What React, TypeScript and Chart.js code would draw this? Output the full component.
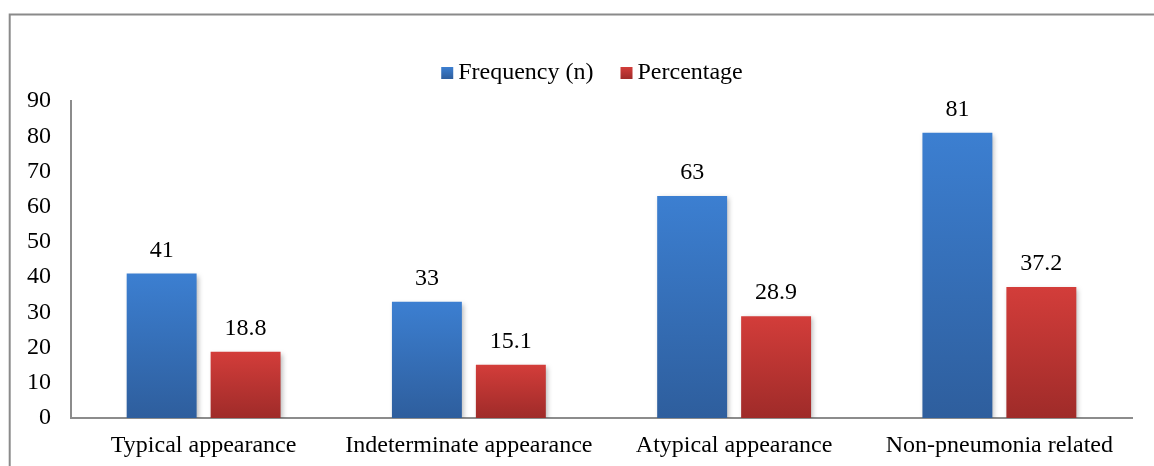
import React, { useEffect, useRef } from "react";
import { Chart, registerables } from "chart.js";

Chart.register(...registerables);

const categories = [
  "Typical appearance",
  "Indeterminate appearance",
  "Atypical appearance",
  "Non-pneumonia related",
];
const seriesLabels = ["Frequency (n)", "Percentage"];
const frequency = [41, 33, 63, 81];
const percentage = [18.8, 15.1, 28.9, 37.2];
const yMin = 0;
const yMax = 90;
const yStep = 10;

const FONT = '"Liberation Serif", "Times New Roman", serif';
const GRADS = [
  ["#3c7fd1", "#2e5e9d"],
  ["#d33d3a", "#9f2b29"],
];
const AXIS_GRAY = "#8c8c8c";

function makeGrad(ctx: CanvasRenderingContext2D, top: number, bottom: number, idx: number) {
  if (!isFinite(top) || !isFinite(bottom) || top === bottom) return GRADS[idx][0];
  const g = ctx.createLinearGradient(0, top, 0, bottom);
  g.addColorStop(0, GRADS[idx][0]);
  g.addColorStop(1, GRADS[idx][1]);
  return g;
}

const framePlugin = {
  id: "frame",
  beforeDraw(chart: any) {
    const ctx = chart.ctx;
    ctx.save();
    ctx.fillStyle = "#ffffff";
    ctx.fillRect(0, 0, chart.width, chart.height);
    ctx.strokeStyle = "#8a8a8a";
    ctx.lineWidth = 2;
    ctx.strokeRect(9.7, 14.5, chart.width + 20, chart.height + 20);
    ctx.restore();
  },
};

const shadowPlugin = {
  id: "barShadow",
  beforeDatasetsDraw(chart: any) {
    const ctx = chart.ctx;
    ctx.save();
    ctx.shadowColor = "rgba(0,0,0,0.28)";
    ctx.shadowBlur = 5;
    ctx.shadowOffsetX = 2;
    ctx.shadowOffsetY = 2;
  },
  afterDatasetsDraw(chart: any) {
    chart.ctx.restore();
  },
};

const labelsPlugin = {
  id: "valueLabels",
  afterDraw(chart: any) {
    const ctx = chart.ctx;
    ctx.save();
    ctx.font = `24px ${FONT}`;
    ctx.fillStyle = "#000000";
    ctx.textAlign = "center";
    ctx.textBaseline = "alphabetic";
    chart.data.datasets.forEach((ds: any, di: number) => {
      const meta = chart.getDatasetMeta(di);
      meta.data.forEach((el: any, i: number) => {
        ctx.fillText(String(ds.data[i]), el.x, el.y - 17);
      });
    });
    ctx.restore();
  },
};

const legendPlugin = {
  id: "customLegend",
  afterDraw(chart: any) {
    const ctx = chart.ctx;
    ctx.save();
    ctx.font = `24px ${FONT}`;
    const box = 12;
    const gapText = 5;
    const gapItem = 27;
    const items = chart.data.datasets.map((d: any) => d.label as string);
    const widths = items.map((t: string) => ctx.measureText(t).width);
    let total = 0;
    widths.forEach((w: number, i: number) => {
      total += box + gapText + w + (i < widths.length - 1 ? gapItem : 0);
    });
    const cx = 592;
    const cy = 73;
    let x = cx - total / 2;
    items.forEach((t: string, i: number) => {
      ctx.fillStyle = makeGrad(ctx, cy - 6, cy + 6, i);
      ctx.fillRect(x, cy - 6, box, box);
      x += box + gapText;
      ctx.fillStyle = "#000000";
      ctx.textAlign = "left";
      ctx.textBaseline = "middle";
      ctx.fillText(t, x, cy);
      x += widths[i] + gapItem;
    });
    ctx.restore();
  },
};

function barColor(idx: number) {
  return (c: any) => {
    const chart = c.chart;
    const y = chart.scales?.y;
    if (!y || c.raw === undefined) return GRADS[idx][0];
    const top = y.getPixelForValue(c.raw);
    const bottom = y.getPixelForValue(0);
    return makeGrad(chart.ctx, top, bottom, idx);
  };
}

export default function App() {
  const ref = useRef<HTMLCanvasElement | null>(null);

  useEffect(() => {
    if (!ref.current) return;
    const chart = new Chart(ref.current, {
      type: "bar",
      data: {
        labels: categories,
        datasets: [
          {
            label: seriesLabels[0],
            data: frequency,
            backgroundColor: barColor(0),
            categoryPercentage: 0.633,
            barPercentage: 0.833,
          },
          {
            label: seriesLabels[1],
            data: percentage,
            backgroundColor: barColor(1),
            categoryPercentage: 0.633,
            barPercentage: 0.833,
          },
        ],
      },
      options: {
        responsive: false,
        animation: false,
        layout: { padding: { top: 101, right: 22, left: 0, bottom: 0 } },
        plugins: {
          legend: { display: false },
          tooltip: { enabled: false },
        },
        scales: {
          x: {
            grid: { display: false, drawTicks: false },
            border: { display: true, color: AXIS_GRAY, width: 2 },
            ticks: {
              font: { family: FONT, size: 24 },
              color: "#000000",
              padding: 13,
              maxRotation: 0,
              autoSkip: false,
            },
            afterFit(scale: any) {
              scale.height = 48;
            },
          },
          y: {
            min: yMin,
            max: yMax,
            grid: { display: false, drawTicks: false },
            border: { display: true, color: AXIS_GRAY, width: 2 },
            ticks: {
              stepSize: yStep,
              font: { family: FONT, size: 24 },
              color: "#000000",
              padding: 20,
            },
            afterFit(scale: any) {
              scale.width = 71;
            },
          },
        },
      },
      plugins: [framePlugin, shadowPlugin, labelsPlugin, legendPlugin],
    });
    return () => chart.destroy();
  }, []);

  return (
    <div style={{ position: "absolute", left: 0, top: 0, width: 1154, height: 466 }}>
      <canvas ref={ref} width={1154} height={466} style={{ display: "block" }} />
    </div>
  );
}
